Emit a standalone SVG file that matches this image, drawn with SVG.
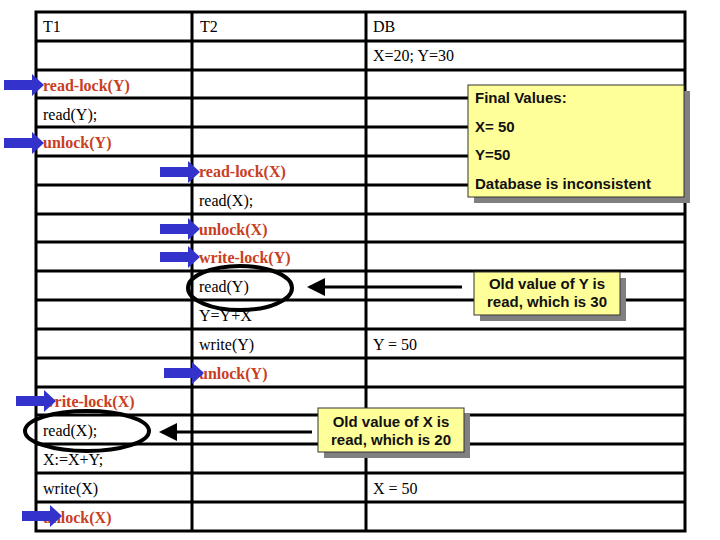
<svg xmlns="http://www.w3.org/2000/svg" width="720" height="540" viewBox="0 0 720 540">
<defs>
<style>
.g{stroke:#000;stroke-width:3;fill:none}
.t{font-family:"Liberation Serif",serif;font-size:16px;fill:#000}
.r{font-family:"Liberation Serif",serif;font-size:16px;fill:#C8401E;font-weight:bold}
.c{font-family:"Liberation Sans",sans-serif;font-size:15px;font-weight:bold;fill:#111}
.box{fill:#FFFF99;stroke:#333;stroke-width:1}
.sh{fill:#808080}
.ba{fill:#3333CC}
</style>
<marker id="ah" markerWidth="6" markerHeight="6" refX="5" refY="3" orient="auto" markerUnits="strokeWidth"><path d="M0,0 L6,3 L0,6 z" fill="#000"/></marker>
<path id="barrow" d="M0,-5 H28 V-11 L40,0 L28,11 V5 H0 z"/>
</defs>
<rect width="720" height="540" fill="#fff"/>
<g id="table">
<rect x="36" y="12" width="649" height="519" class="g"/>
<path class="g" d="M192 12V531 M366 12V531 M36 41H685 M36 70H685 M36 98H685 M36 127H685 M36 156H685 M36 185H685 M36 214H685 M36 242H685 M36 271H685 M36 300H685 M36 329H685 M36 358H685 M36 387H685 M36 415H685 M36 444H685 M36 473H685 M36 502H685"/>
<text class="t" x="43" y="32">T1</text><text class="t" x="200" y="32">T2</text><text class="t" x="373" y="32">DB</text>
<text class="t" x="373" y="61">X=20; Y=30</text>
<text class="r" x="43" y="91">read-lock(Y)</text>
<text class="t" x="43" y="120">read(Y);</text>
<text class="r" x="43" y="148">unlock(Y)</text>
<text class="r" x="199" y="177">read-lock(X)</text>
<text class="t" x="199" y="206">read(X);</text>
<text class="r" x="199" y="235">unlock(X)</text>
<text class="r" x="199" y="263">write-lock(Y)</text>
<text class="t" x="199" y="292">read(Y)</text>
<text class="t" x="199" y="321">Y=Y+X</text>
<text class="t" x="199" y="350">write(Y)</text><text class="t" x="373" y="350">Y = 50</text>
<text class="r" x="199" y="379">unlock(Y)</text>
<text class="r" x="43" y="407">write-lock(X)</text>
<text class="t" x="43" y="436">read(X);</text>
<text class="t" x="43" y="465">X:=X+Y;</text>
<text class="t" x="43" y="494">write(X)</text><text class="t" x="373" y="494">X  = 50</text>
<text class="r" x="43" y="523">unlock(X)</text>
</g>
<g id="lock-arrows" class="ba">
<use href="#barrow" x="4" y="85"/>
<use href="#barrow" x="4" y="143"/>
<use href="#barrow" x="160" y="172"/>
<use href="#barrow" x="160" y="229"/>
<use href="#barrow" x="160" y="257"/>
<use href="#barrow" x="164" y="373"/>
<use href="#barrow" x="16" y="401"/>
<use href="#barrow" x="22" y="516"/>
</g>
<g id="connectors">
<ellipse cx="240" cy="288" rx="52" ry="22" fill="none" stroke="#000" stroke-width="4"/>
<ellipse cx="87" cy="431" rx="62" ry="20" fill="none" stroke="#000" stroke-width="4"/>
<line x1="462" y1="287" x2="310" y2="287" stroke="#000" stroke-width="3" marker-end="url(#ah)"/>
<line x1="312" y1="432" x2="162" y2="432" stroke="#000" stroke-width="3" marker-end="url(#ah)"/>
</g>
<g id="final">
<rect x="474" y="91" width="216" height="112" class="sh"/>
<rect x="468" y="85" width="216" height="112" class="box"/>
<text class="c" x="475" y="103">Final Values:</text>
<text class="c" x="475" y="132">X= 50</text>
<text class="c" x="475" y="160">Y=50</text>
<text class="c" x="475" y="189">Database is inconsistent</text>
</g>
<g id="noteY">
<rect x="480" y="278" width="146" height="43" class="sh"/>
<rect x="474" y="272" width="146" height="43" class="box"/>
<text class="c" x="547" y="289" text-anchor="middle">Old value of Y is</text>
<text class="c" x="547" y="307" text-anchor="middle">read, which is 30</text>
</g>
<g id="noteX">
<rect x="324" y="414" width="146" height="44" class="sh"/>
<rect x="318" y="408" width="146" height="44" class="box"/>
<text class="c" x="391" y="427" text-anchor="middle">Old value of X is</text>
<text class="c" x="391" y="445" text-anchor="middle">read, which is 20</text>
</g>
</svg>
